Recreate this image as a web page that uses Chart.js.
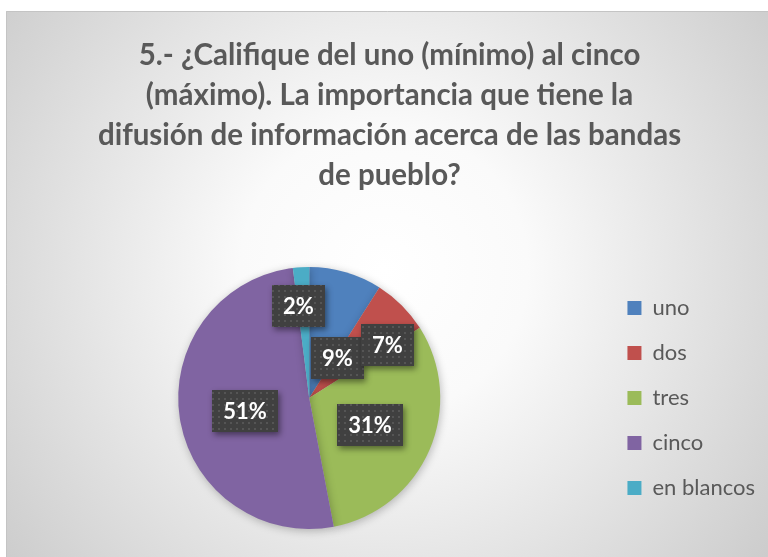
<!DOCTYPE html>
<html>
<head>
<meta charset="utf-8">
<script src="https://cdn.jsdelivr.net/npm/chart.js@4/dist/chart.umd.min.js"></script>
<style>
  html, body { margin: 0; padding: 0; background: #ffffff; }
  #wrap { position: relative; width: 768px; height: 557px; }
  canvas { display: block; }
</style>
</head>
<body>
<div id="wrap"><canvas id="c" width="768" height="557"></canvas></div>
<script>
// ---- data ----
const categories = ['uno', 'dos', 'tres', 'cinco', 'en blancos'];
const percentValues = [9, 7, 31, 51, 2];
const sliceColors = ['#4F81BD', '#C0504D', '#9BBB59', '#8064A2', '#4BACC6'];
const titleLines = [
  '5.- ¿Califique del uno (mínimo) al cinco',
  '(máximo). La importancia que tiene la',
  'difusión de información acerca de las bandas',
  'de pueblo?'
];

// label placement (angle shift in degrees from slice middle, radius fraction)
const labelAngleShift = [19, 11, 0.6, -2, -3.2];
const labelRadiusFrac = [0.37, 0.72, 0.51, 0.50, 0.71];

const FONT = 'Lato, "Open Sans", "Liberation Sans", sans-serif';

// background plugin
const bgPlugin = {
  id: 'bg',
  beforeDraw(chart) {
    const ctx = chart.ctx;
    const W = chart.width, H = chart.height;
    ctx.save();
    ctx.fillStyle = '#ffffff';
    ctx.fillRect(0, 0, W, H);
    const g = ctx.createRadialGradient(384, 270, 0, 384, 270, 480);
    g.addColorStop(0, '#ffffff');
    g.addColorStop(0.3, '#fafafa');
    g.addColorStop(1, '#cccccc');
    ctx.fillStyle = g;
    ctx.fillRect(6, 11, W - 6, H - 11);
    ctx.strokeStyle = '#c4c4c4';
    ctx.lineWidth = 1;
    ctx.beginPath();
    ctx.moveTo(6.5, H);
    ctx.lineTo(6.5, 11.5);
    ctx.lineTo(W, 11.5);
    ctx.stroke();
    ctx.restore();
  }
};

// soft shadow for the pie
const shadowPlugin = {
  id: 'pieShadow',
  beforeDatasetsDraw(chart) {
    const ctx = chart.ctx;
    ctx.save();
    ctx.shadowColor = 'rgba(0,0,0,0.25)';
    ctx.shadowBlur = 8;
    ctx.shadowOffsetX = 1;
    ctx.shadowOffsetY = 2;
  },
  afterDatasetsDraw(chart) {
    chart.ctx.restore();
  }
};

function makePattern(ctx) {
  const pc = document.createElement('canvas');
  pc.width = 6; pc.height = 6;
  const p = pc.getContext('2d');
  p.fillStyle = '#404040';
  p.fillRect(0, 0, 6, 6);
  p.fillStyle = '#555555';
  p.fillRect(2, 2, 2, 2);
  return ctx.createPattern(pc, 'repeat');
}

const labelPlugin = {
  id: 'boxLabels',
  afterDraw(chart) {
    const ctx = chart.ctx;
    const meta = chart.getDatasetMeta(0);
    const pattern = makePattern(ctx);
    ctx.save();
    ctx.font = 'bold 22px ' + FONT;
    ctx.textAlign = 'center';
    ctx.textBaseline = 'middle';
    meta.data.forEach((arc, i) => {
      const p = arc.getProps(['x', 'y', 'startAngle', 'endAngle', 'outerRadius'], true);
      const mid = (p.startAngle + p.endAngle) / 2 + labelAngleShift[i] * Math.PI / 180;
      const r = p.outerRadius * labelRadiusFrac[i];
      const cx = p.x + Math.cos(mid) * r;
      const cy = p.y + Math.sin(mid) * r;
      const text = percentValues[i] + '%';
      const tw = ctx.measureText(text).width;
      const bw = Math.round(tw + 22), bh = 42;
      const bx = Math.round(cx - bw / 2), by = Math.round(cy - bh / 2);
      ctx.save();
      ctx.shadowColor = 'rgba(0,0,0,0.45)';
      ctx.shadowBlur = 6;
      ctx.shadowOffsetX = 2;
      ctx.shadowOffsetY = 3;
      ctx.fillStyle = '#404040';
      ctx.fillRect(bx, by, bw, bh);
      ctx.restore();
      ctx.fillStyle = pattern;
      ctx.fillRect(bx, by, bw, bh);
      ctx.fillStyle = '#ffffff';
      ctx.fillText(text, bx + bw / 2, by + bh / 2 + 1);
    });
    ctx.restore();
  }
};

new Chart(document.getElementById('c'), {
  type: 'pie',
  data: {
    labels: categories,
    datasets: [{
      data: percentValues,
      backgroundColor: sliceColors,
      borderWidth: 0
    }]
  },
  options: {
    responsive: false,
    animation: false,
    layout: { padding: { left: 14, right: 3, top: 0, bottom: 28 } },
    plugins: {
      title: {
        display: true,
        text: titleLines,
        color: '#595959',
        font: { family: FONT, size: 29.5, weight: 'bold', lineHeight: 1.356 },
        padding: { top: 35, bottom: 72 }
      },
      legend: {
        display: true,
        position: 'right',
        fullSize: false,
        labels: {
          color: '#595959',
          font: { family: FONT, size: 22 },
          boxWidth: 14,
          boxHeight: 14,
          padding: 23
        }
      },
      tooltip: { enabled: false }
    }
  },
  plugins: [bgPlugin, shadowPlugin, labelPlugin]
});
</script>
</body>
</html>
